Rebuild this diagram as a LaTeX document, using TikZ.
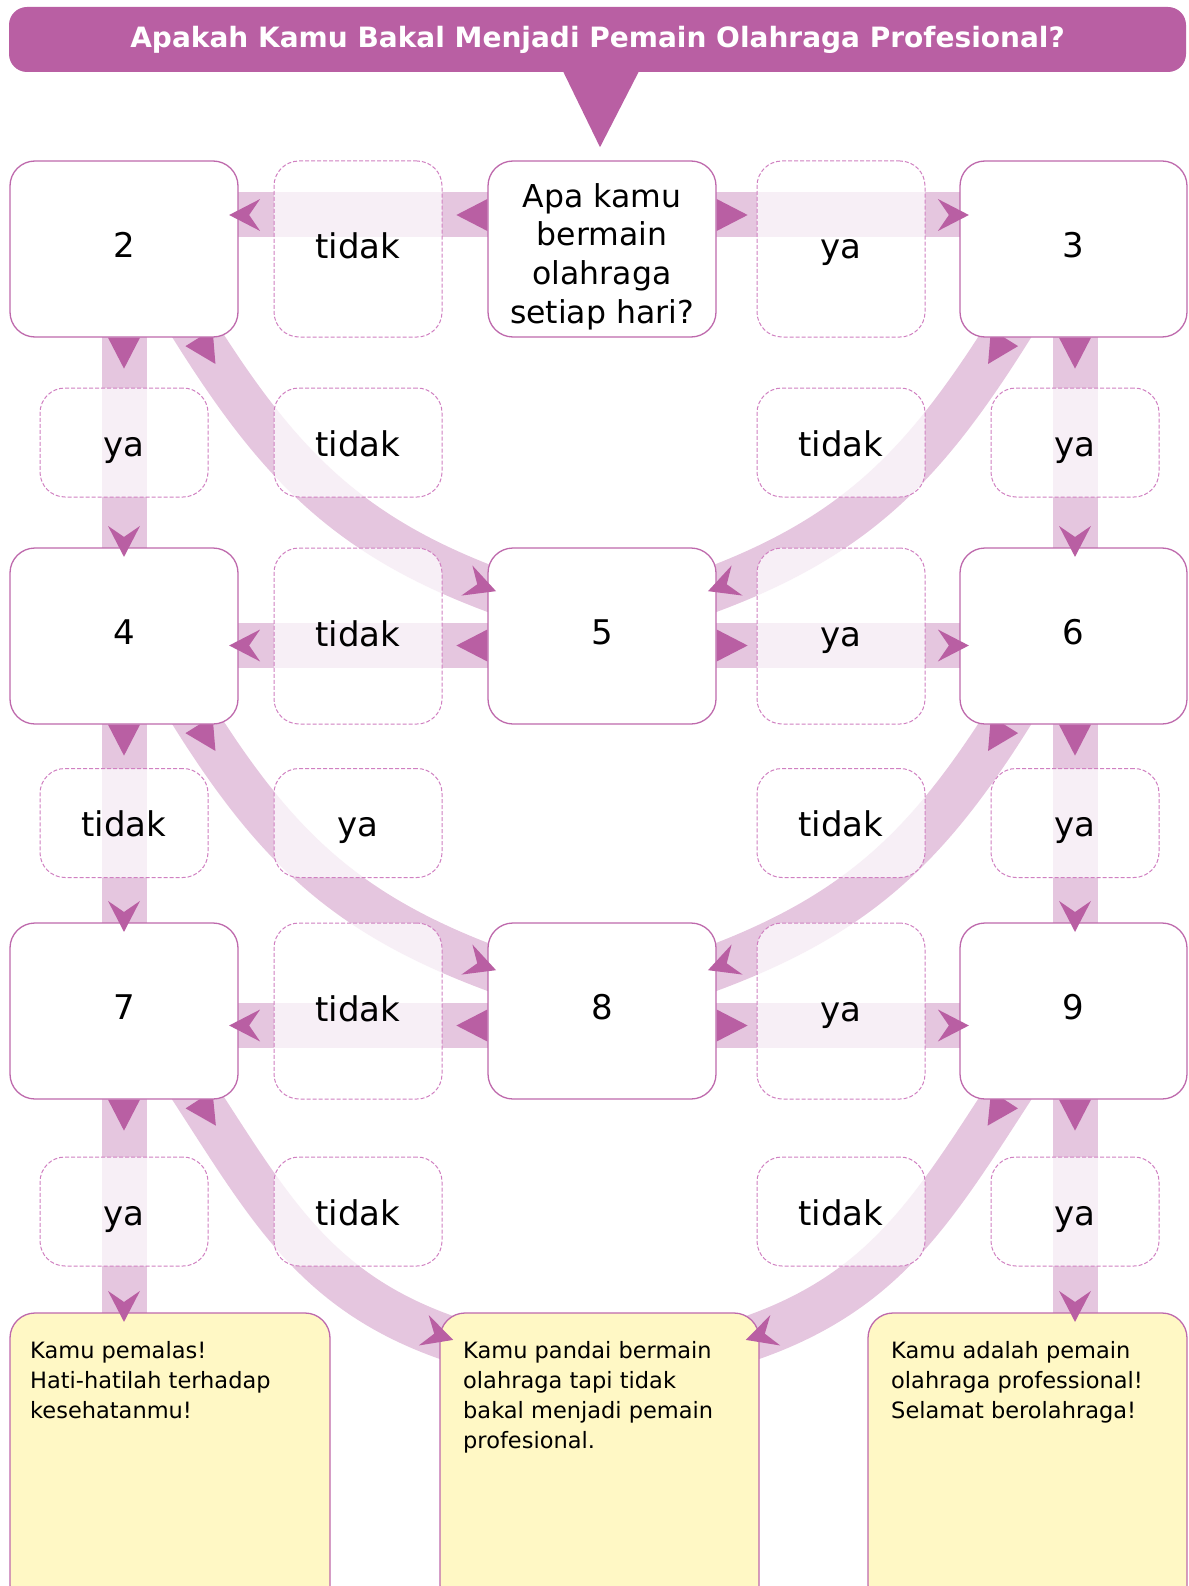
\documentclass[tikz,border=0pt]{standalone}
\usepackage{fontspec}
\setmainfont{DejaVu Sans}
\usetikzlibrary{decorations.markings,calc}
\definecolor{mag}{RGB}{185,95,163}
\definecolor{magline}{RGB}{190,105,172}
\definecolor{dashc}{RGB}{208,128,193}
\definecolor{bandc}{RGB}{229,198,223}
\definecolor{yel}{RGB}{255,248,197}
\pgfdeclarelayer{bg}
\pgfsetlayers{bg,main}
\tikzset{
  mainbox/.style={draw=magline, line width=1.3pt, fill=white, rounded corners=25pt,
    minimum width=228pt, minimum height=176pt, inner sep=0pt},
  digit/.style={font=\fontsize{34}{40}\selectfont, text height=26pt, text depth=9pt},
  lbl/.style={draw=dashc, line width=1pt, dash pattern=on 4pt off 2pt, fill=white,
    fill opacity=0.73, text opacity=1, rounded corners=25pt, minimum width=168pt,
    inner sep=0pt, font=\fontsize{34}{40}\selectfont},
  tall/.style={minimum height=176pt, text height=26pt, text depth=6pt},
  short/.style={minimum height=109pt, text height=30pt, text depth=3pt},
  yelbox/.style={draw=magline, line width=1.3pt, fill=yel, rounded corners=25pt,
    minimum width=319pt, minimum height=297pt, inner sep=0pt},
  ytext/.style={anchor=north west, inner sep=0pt, align=left,
    font=\fontsize{22.5}{30}\selectfont},
  band/.style={draw=bandc, line width=45pt, shorten <=-15pt, shorten >=-15pt,
    postaction={decorate, decoration={markings,
      mark=at position 0 with {\fill[mag] (0,16) -- (31,0) -- (0,-16) -- cycle;}}}},
  tipend/.style={postaction={decorate, decoration={markings,
      mark=at position 0.998 with {\fill[mag] (10,0) -- (-21,16) -- (-10,0) -- (-21,-16) -- cycle;}}}},
}
\newcommand\conn[1]{%
  \begin{pgfonlayer}{bg}\draw[band] #1;\end{pgfonlayer}
  \path[tipend] #1;}
\begin{document}
\begin{tikzpicture}[x=1pt,y=1pt]
\useasboundingbox (0,0) rectangle (1188,-1586);
% title banner
\node[fill=mag, rounded corners=18pt, minimum width=1177pt, minimum height=65pt,
  inner sep=0pt, text=white, font=\bfseries\fontsize{28}{34}\selectfont]
  (title) at (597.5,-39.5) {Apakah Kamu Bakal Menjadi Pemain Olahraga Profesional?};
\fill[mag] ($(title.south)+(-34.5,1)$) -- ($(title.south)+(41.5,1)$)
  -- ($(title.south)+(2.5,-75)$) -- cycle;
% main boxes
\node[mainbox, digit] (n2) at (124,-249) {2};
\node[mainbox, align=center, font=\fontsize{31.5}{38.7}\selectfont] (n1) at (602,-249)
  {\rule{0pt}{39pt}Apa kamu\\bermain\\olahraga\\setiap hari?};
\node[mainbox, digit, minimum width=227pt] (n3) at (1073.5,-249) {3};
\node[mainbox, digit] (n4) at (124,-636) {4};
\node[mainbox, digit] (n5) at (602,-636) {5};
\node[mainbox, digit, minimum width=227pt] (n6) at (1073.5,-636) {6};
\node[mainbox, digit] (n7) at (124,-1011) {7};
\node[mainbox, digit] (n8) at (602,-1011) {8};
\node[mainbox, digit, minimum width=227pt] (n9) at (1073.5,-1011) {9};
% result boxes
\node[yelbox, minimum width=320pt] (yl) at (170,-1461.5) {};
\node[yelbox] (ym) at (599.5,-1461.5) {};
\node[yelbox] (yr) at (1027.5,-1461.5) {};
\node[ytext] (tl) at (30,-1341.5) {Kamu pemalas!\\Hati-hatilah terhadap\\kesehatanmu!};
\node[ytext] (tm) at (463,-1341.5) {Kamu pandai bermain\\olahraga tapi tidak\\bakal menjadi pemain\\profesional.};
\node[ytext] (tr) at (891,-1341.5) {Kamu adalah pemain\\olahraga professional!\\Selamat berolahraga!};
% label boxes between columns
\node[lbl, tall] (h1l) at (358,-249) {tidak};
\node[lbl, tall] (h1r) at (841,-249) {ya};
\node[lbl, tall] (h2l) at (358,-636) {tidak};
\node[lbl, tall] (h2r) at (841,-636) {ya};
\node[lbl, tall] (h3l) at (358,-1011) {tidak};
\node[lbl, tall] (h3r) at (841,-1011) {ya};
% label boxes between rows
\node[lbl, short] (a1) at (124,-442.5) {ya};
\node[lbl, short] (a2) at (358,-442.5) {tidak};
\node[lbl, short] (a3) at (841,-442.5) {tidak};
\node[lbl, short] (a4) at (1075,-442.5) {ya};
\node[lbl, short] (b1) at (124,-823) {tidak};
\node[lbl, short] (b2) at (358,-823) {ya};
\node[lbl, short] (b3) at (841,-823) {tidak};
\node[lbl, short] (b4) at (1075,-823) {ya};
\node[lbl, short] (c1) at (124,-1211.5) {ya};
\node[lbl, short] (c2) at (358,-1211.5) {tidak};
\node[lbl, short] (c3) at (841,-1211.5) {tidak};
\node[lbl, short] (c4) at (1075,-1211.5) {ya};
% connectors
\conn{([yshift=34]n1.west) -- ([yshift=34]n2.east)}
\conn{([yshift=34]n1.east) -- ([yshift=34]n3.west)}
\conn{(n2.south) -- (n4.north)}
\conn{([xshift=1.5]n3.south) -- ([xshift=1.5]n6.north)}
\conn{([xshift=75]n2.south) to[out=-58,in=160] ([yshift=48]n5.west)}
\conn{([xshift=-69]n3.south) to[out=-122,in=20] ([yshift=48]n5.east)}
\conn{([yshift=-9.5]n5.west) -- ([yshift=-9.5]n4.east)}
\conn{([yshift=-9.5]n5.east) -- ([yshift=-9.5]n6.west)}
\conn{(n4.south) -- (n7.north)}
\conn{([xshift=1.5]n6.south) -- ([xshift=1.5]n9.north)}
\conn{([xshift=75]n4.south) to[out=-58,in=160] ([yshift=44]n8.west)}
\conn{([xshift=-69]n6.south) to[out=-122,in=20] ([yshift=44]n8.east)}
\conn{([yshift=-14.5]n8.west) -- ([yshift=-14.5]n7.east)}
\conn{([yshift=-14.5]n8.east) -- ([yshift=-14.5]n9.west)}
\conn{(n7.south) -- (n7.south |- yl.north)}
\conn{([xshift=1.5]n9.south) -- ([xshift=1.5]n9.south |- yr.north)}
\conn{([xshift=75]n7.south) to[out=-57,in=162] ([xshift=5,yshift=124.5]ym.west)}
\conn{([xshift=-69]n9.south) to[out=-123,in=18] ([xshift=-5,yshift=124.5]ym.east)}
\end{tikzpicture}
\end{document}
